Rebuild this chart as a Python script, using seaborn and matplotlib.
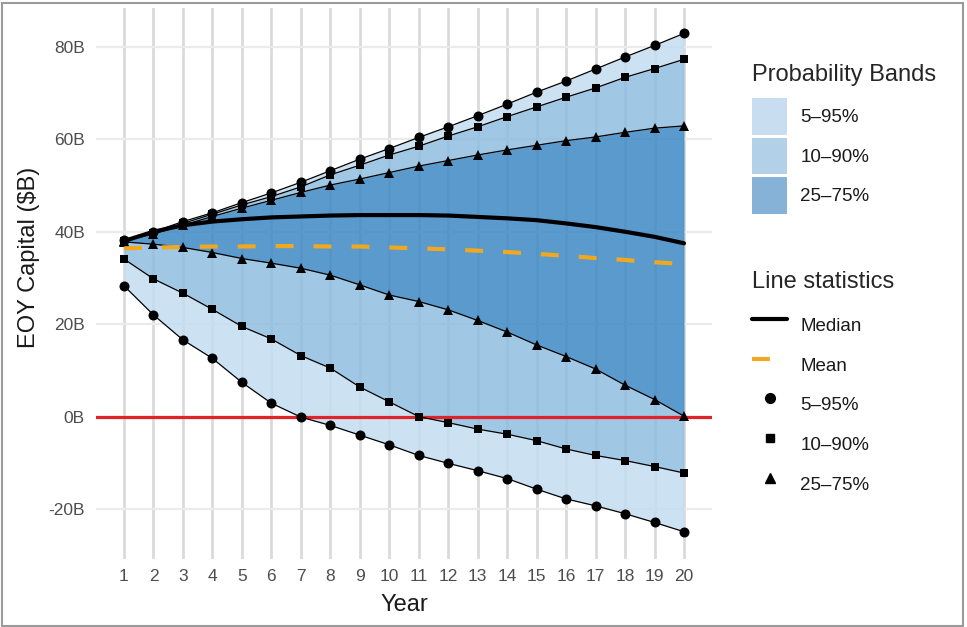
import matplotlib
matplotlib.use("Agg")
import matplotlib.pyplot as plt
from matplotlib.patches import Patch, Rectangle
from matplotlib.lines import Line2D
from matplotlib.ticker import FuncFormatter
import seaborn as sns
import numpy as np

years = list(range(1, 21))
p95 = [38.2, 40.0, 42.2, 44.1, 46.3, 48.4, 50.7, 53.2, 55.7, 58.0,
       60.4, 62.7, 65.1, 67.6, 70.2, 72.6, 75.2, 77.8, 80.3, 82.9]
p90 = [38.1, 39.8, 41.8, 43.8, 45.8, 47.6, 49.7, 52.3, 54.4, 56.6,
       58.5, 60.7, 62.7, 64.9, 67.0, 69.1, 71.1, 73.4, 75.3, 77.3]
p75 = [38.0, 39.5, 41.4, 43.3, 45.1, 46.8, 48.5, 50.1, 51.4, 52.8,
       54.2, 55.4, 56.6, 57.7, 58.7, 59.7, 60.5, 61.5, 62.4, 62.9]
median = [38.0, 40.0, 41.4, 42.2, 42.7, 43.1, 43.3, 43.5, 43.6, 43.6,
          43.6, 43.5, 43.2, 42.9, 42.5, 41.8, 41.0, 40.0, 38.9, 37.5]
mean = [36.4, 36.6, 36.7, 36.8, 36.8, 36.9, 36.9, 36.8, 36.8, 36.6,
        36.4, 36.2, 35.9, 35.6, 35.2, 34.8, 34.3, 33.9, 33.4, 33.0]
p25 = [37.8, 37.3, 36.6, 35.5, 34.2, 33.2, 32.1, 30.6, 28.5, 26.3,
       24.9, 23.1, 20.8, 18.3, 15.5, 13.0, 10.3, 6.8, 3.7, 0.1]
p10 = [34.1, 29.8, 26.7, 23.2, 19.5, 16.8, 13.2, 10.5, 6.4, 3.2,
       0.0, -1.3, -2.7, -3.8, -5.2, -7.0, -8.4, -9.5, -10.8, -12.2]
p5 = [28.3, 22.0, 16.6, 12.6, 7.4, 2.9, -0.1, -1.9, -4.0, -6.1,
      -8.4, -10.1, -11.7, -13.4, -15.7, -17.8, -19.3, -21.0, -22.9, -24.9]

band_labels = ["5\u201395%", "10\u201390%", "25\u201375%"]
y_ticks = [-20, 0, 20, 40, 60, 80]

sns.set_theme(style="whitegrid")
plt.rcParams["font.family"] = ["Liberation Sans", "DejaVu Sans"]

fig = plt.figure(figsize=(9.67, 6.27), dpi=100)
ax = fig.add_axes([96 / 967, 1 - 559 / 627, (712 - 96) / 967, (559 - 8) / 627])

light = (196 / 255, 221 / 255, 240 / 255)
mid = (143 / 255, 190 / 255, 223 / 255)
dark = (62 / 255, 137 / 255, 196 / 255)
a = 0.85
x = np.array(years)
ax.fill_between(x, p5, p10, color=light, alpha=a, lw=0, zorder=1)
ax.fill_between(x, p90, p95, color=light, alpha=a, lw=0, zorder=1)
ax.fill_between(x, p10, p25, color=mid, alpha=a, lw=0, zorder=1)
ax.fill_between(x, p75, p90, color=mid, alpha=a, lw=0, zorder=1)
ax.fill_between(x, p25, p75, color=dark, alpha=a, lw=0, zorder=1)

ax.axhline(0, color="#E0222A", lw=2.3, zorder=3)

for series, mk, ms in [(p95, "o", 7.2), (p5, "o", 7.2), (p90, "s", 6.0),
                       (p10, "s", 6.0), (p75, "^", 7.0), (p25, "^", 7.0)]:
    sns.lineplot(x=years, y=series, ax=ax, color="black", lw=0.9,
                 marker=mk, markersize=ms, markeredgewidth=0, zorder=4)

sns.lineplot(x=years, y=median, ax=ax, color="black", lw=3.0, zorder=5)
sns.lineplot(x=years, y=mean, ax=ax, color="#F0A81E", lw=3.0, zorder=5,
             dashes=False)
ax.lines[-1].set_dashes((4.3, 4.8))

ax.set_xlim(0.05, 20.95)
ax.set_ylim(-30.8, 88.4)
ax.set_xticks(years)
ax.set_yticks(y_ticks)
ax.yaxis.set_major_formatter(FuncFormatter(lambda v, p: f"{int(v)}B"))
ax.tick_params(axis="both", length=0, labelsize=12.5, labelcolor="#4D4D4D")
ax.tick_params(axis="x", pad=7.5)
ax.tick_params(axis="y", pad=8)
ax.grid(axis="x", color="#DADADA", lw=2.0)
ax.grid(axis="y", color="#EBEBEB", lw=1.6)
ax.set_axisbelow(True)
sns.despine(ax=ax, left=True, bottom=True, top=True, right=True)

ax.set_xlabel("Year", fontsize=17, color="#1A1A1A", labelpad=7)
ax.set_ylabel("EOY Capital ($B)", fontsize=17, color="#1A1A1A")
ax.yaxis.set_label_coords(-(96 - 40) / 616, 1 - (257 - 8) / 551)

common = dict(loc="upper left", frameon=False, fontsize=13.5, title_fontsize=17,
              handlelength=1.87, handleheight=2.65, labelspacing=0.15,
              handletextpad=0.7, borderpad=0, borderaxespad=0, alignment="left")

band_handles = [Patch(facecolor="#C8DEF0", edgecolor="none"),
                Patch(facecolor="#B2D0E8", edgecolor="none"),
                Patch(facecolor="#87B2D7", edgecolor="none")]
leg1 = fig.legend(handles=band_handles, labels=band_labels,
                  title="Probability Bands",
                  bbox_to_anchor=(752 / 967, 1 - 64 / 627), **common)

stat_handles = [Line2D([], [], color="black", lw=3.0),
                Line2D([], [], color="#F0A81E", lw=3.0, dashes=(4.3, 4.8)),
                Line2D([], [], color="black", marker="o", ls="None", markersize=7),
                Line2D([], [], color="black", marker="s", ls="None", markersize=6),
                Line2D([], [], color="black", marker="^", ls="None", markersize=7)]
stat_labels = ["Median", "Mean"] + band_labels
leg2 = fig.legend(handles=stat_handles, labels=stat_labels,
                  title="Line statistics",
                  bbox_to_anchor=(752 / 967, 1 - 271 / 627), **common)
leg1._legend_box.sep = 2.0 + 6.5
leg2._legend_box.sep = 2.0 + 8.0
for leg in (leg1, leg2):
    for t in leg.get_texts():
        t.set_color("#1A1A1A")

fig.patches.append(Rectangle((0.002, 0.002), 0.994, 0.994, transform=fig.transFigure,
                             fill=False, edgecolor="#9A9A9A", lw=1.5))

fig.savefig("out.png", dpi=100, facecolor="white")
